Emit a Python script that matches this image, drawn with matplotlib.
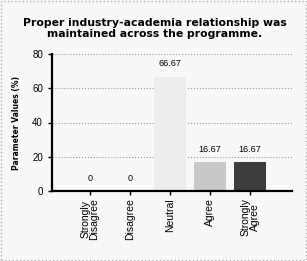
import matplotlib.pyplot as plt

categories = ["Strongly\nDisagree", "Disagree", "Neutral", "Agree", "Strongly\nAgree"]
values = [0, 0, 66.67, 16.67, 16.67]
labels = ["0", "0", "66.67", "16.67", "16.67"]
colors = ["#d0d0d0", "#d0d0d0", "#ededed", "#c9c9c9", "#3d3d3d"]

fig = plt.figure(figsize=(3.07, 2.61), dpi=100, facecolor="#f8f8f8")
fig.patches.append(plt.Rectangle((0.004, 0.004), 0.992, 0.992, transform=fig.transFigure,
                                 fill=False, edgecolor="#b0b0b0", lw=1, ls=":"))
ax = fig.add_axes([52/307, 1 - 191/261, 240/307, 137/261])
ax.set_facecolor("#f8f8f8")

x = list(range(len(categories)))
ax.bar(x, values, width=0.8, color=colors, zorder=2)
for xi, v, lab in zip(x, values, labels):
    ax.annotate(lab, (xi, v), xytext=(0, 6), textcoords="offset points",
                ha="center", va="bottom", fontsize=6.5, family="Liberation Sans")

ax.set_xlim(-0.95, 5.05)
ax.set_ylim(0, 80)
ax.set_yticks([0, 20, 40, 60, 80])
ax.yaxis.grid(True, ls=":", color="#999999", lw=0.8, zorder=0)
ax.set_xticks(x)
ax.set_xticklabels(categories, rotation=90, fontsize=7.5, family="Liberation Sans",
                   linespacing=0.9)
ax.tick_params(axis="y", labelsize=7, length=3, width=1)
ax.tick_params(axis="x", length=3, width=1, pad=2)
for lab in ax.get_yticklabels():
    lab.set_family("Liberation Sans")
for s in ["top", "right"]:
    ax.spines[s].set_visible(False)
ax.spines["left"].set_linewidth(1.6)
ax.spines["bottom"].set_linewidth(1.6)

ax.set_ylabel("Parameter Values (%)", fontsize=5.5, fontweight="bold", labelpad=8)
fig.text(0.505, 0.89, "Proper industry-academia relationship was\nmaintained across the programme.",
         ha="center", va="center", fontsize=7.8, fontweight="bold", linespacing=1.1)

fig.savefig("out.png", dpi=100, facecolor=fig.get_facecolor())
